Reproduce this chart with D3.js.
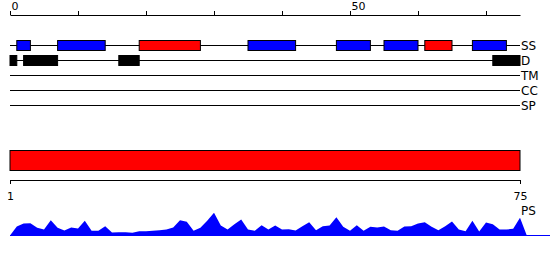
<!DOCTYPE html>
<html>
<head>
<meta charset="utf-8">
<script src="https://cdn.jsdelivr.net/npm/d3@7"></script>
<style>
  body { margin: 0; background: #fff; }
  svg { display: block; font-family: "DejaVu Sans", sans-serif; }
</style>
</head>
<body>
<svg id="chart" width="550" height="260"></svg>
<script>
// --- Data ---
const tracks = ["SS", "D", "TM", "CC", "SP"];

// secondary structure segments (E = strand, H = helix)
const ssStart = [1, 7, 19, 35, 48, 55, 61, 68];
const ssEnd = [3, 14, 28, 42, 53, 60, 65, 73];
const ssType = ["E", "E", "H", "E", "E", "E", "H", "E"];

// disordered segments
const dStart = [0, 2, 16, 71];
const dEnd = [1, 7, 19, 75];

// domain bar
const domainStart = [1];
const domainEnd = [75];

// PS profile, residues 1..75
const psValues = [
  9, 12, 12.3, 7.7, 6, 15.3, 7.7, 5, 8, 7,
  14.7, 4.7, 4.7, 9.3, 3, 3.3, 3.3, 2.7, 4.3, 4.3,
  4.7, 5.3, 6, 8, 15.3, 13.7, 4.7, 7.7, 14.7, 22.7,
  10, 6, 11.3, 16, 6, 4.7, 10.3, 6, 10, 6,
  6.3, 5, 9.3, 13.3, 5.3, 9.3, 10, 18.3, 8.7, 4.7,
  10.3, 4.7, 8.7, 8, 9, 5.3, 4.7, 9, 9.3, 12,
  13.3, 8.7, 5.3, 9.3, 14, 6, 4.3, 14.7, 4, 13,
  11.3, 6, 6, 6.7, 17.7
];

const topTicks = [0, 10, 20, 30, 40, 50, 60, 70];
const topLabels = [0, 50];
const bottomTicks = [1, 75];

// --- Layout ---
const svg = d3.select("#chart");
const left = 10, right = 520;

const x = d3.scaleLinear().domain([0, 75]).range([left, right]);
const xb = d3.scaleLinear().domain([1, 75]).range([left, right]);
const yTrack = d3.scalePoint().domain(tracks).range([45, 105]);
const ssColor = d3.scaleOrdinal().domain(["E", "H"]).range(["#0000ff", "#ff0000"]);

// --- Top axis ---
const topAxis = svg.append("g")
    .attr("transform", "translate(0,15)")
    .call(d3.axisTop(x).tickValues(topTicks).tickSizeOuter(0).tickSizeInner(4)
        .tickFormat(d => topLabels.includes(d) ? d : ""));
topAxis.selectAll("text")
    .attr("text-anchor", "start")
    .attr("x", 1)
    .attr("y", -5)
    .style("font-size", "11px")
    .style("font-family", "DejaVu Sans, sans-serif");

// --- Track lines + labels ---
svg.selectAll(".track-line")
    .data(tracks)
    .enter()
    .append("line")
    .attr("x1", x(0))
    .attr("x2", x(75))
    .attr("y1", d => yTrack(d) + 0.5)
    .attr("y2", d => yTrack(d) + 0.5)
    .attr("stroke", "#000");

svg.selectAll(".track-label")
    .data(tracks)
    .enter()
    .append("text")
    .attr("x", right + 1)
    .attr("y", d => yTrack(d) + 0.5)
    .attr("dy", "0.36em")
    .style("font-size", "12px")
    .text(d => d);

// --- SS boxes ---
svg.selectAll(".ss")
    .data(ssStart.map((s, i) => ({ s: s, e: ssEnd[i], t: ssType[i] })))
    .enter()
    .append("rect")
    .attr("x", d => x(d.s))
    .attr("width", d => x(d.e) - x(d.s))
    .attr("y", yTrack("SS") - 4.5)
    .attr("height", 10)
    .attr("fill", d => ssColor(d.t))
    .attr("stroke", "#000");

// --- Disorder boxes ---
svg.selectAll(".dis")
    .data(dStart.map((s, i) => ({ s: s, e: dEnd[i] })))
    .enter()
    .append("rect")
    .attr("x", d => x(d.s))
    .attr("width", d => x(d.e) - x(d.s))
    .attr("y", yTrack("D") - 4.5)
    .attr("height", 10)
    .attr("fill", "#000")
    .attr("stroke", "#000");

// --- Domain bar ---
svg.selectAll(".dom")
    .data(domainStart.map((s, i) => ({ s: s, e: domainEnd[i] })))
    .enter()
    .append("rect")
    .attr("x", d => xb(d.s))
    .attr("width", d => xb(d.e) - xb(d.s))
    .attr("y", 150.5)
    .attr("height", 20)
    .attr("fill", "#ff0000")
    .attr("stroke", "#000");

// --- Bottom axis ---
const bottomAxis = svg.append("g")
    .attr("transform", "translate(0,180)")
    .call(d3.axisBottom(xb).tickValues(bottomTicks).tickSizeOuter(0).tickSizeInner(4));
bottomAxis.selectAll("text")
    .attr("y", 12)
    .style("font-size", "11px")
    .style("font-family", "DejaVu Sans, sans-serif");

// --- PS area ---
const base = 235.5;
const yPs = d3.scaleLinear().domain([0, 25]).range([base, base - 25]);
const psPoints = [{ p: 0, v: 0 }]
    .concat(psValues.map((v, i) => ({ p: i + 1, v: v })))
    .concat([{ p: 76, v: 0 }]);

svg.append("line")
    .attr("x1", x(0))
    .attr("x2", 550)
    .attr("y1", base)
    .attr("y2", base)
    .attr("stroke", "#0000ff");

svg.append("path")
    .datum(psPoints)
    .attr("fill", "#0000ff")
    .attr("d", d3.area()
        .x(d => x(d.p))
        .y0(base)
        .y1(d => yPs(d.v)));

svg.append("text")
    .attr("x", right + 1)
    .attr("y", 215)
    .style("font-size", "12px")
    .text("PS");
</script>
</body>
</html>
